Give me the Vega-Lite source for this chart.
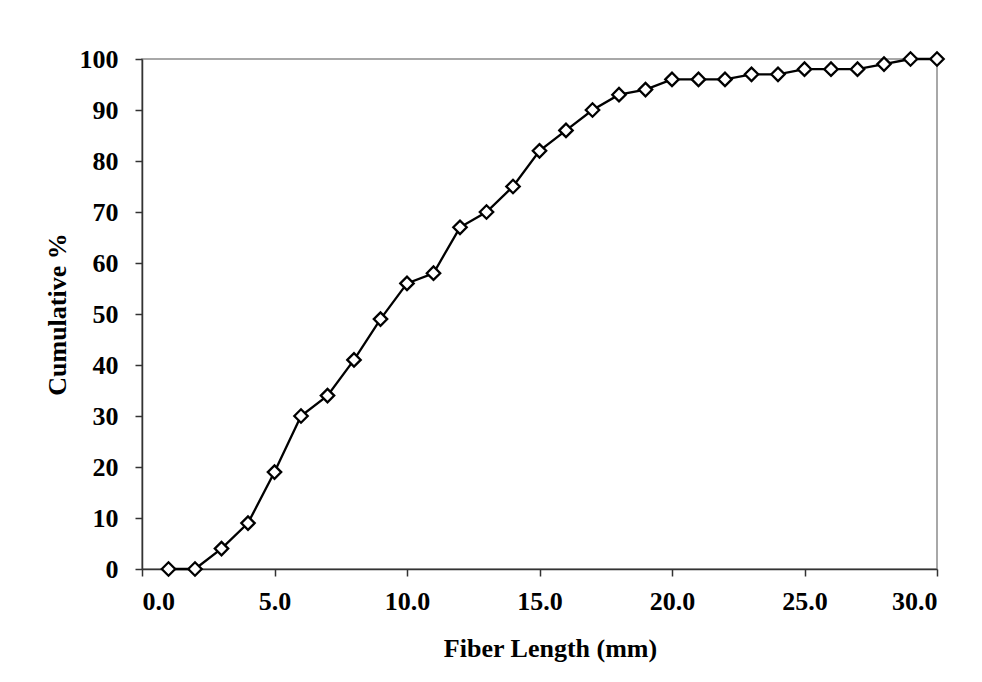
{
  "$schema": "https://vega.github.io/schema/vega-lite/v6.json",
  "autosize": {"type": "none"},
  "padding": {"left": 142, "top": 59, "right": 45, "bottom": 113},
  "width": 795,
  "height": 510,
  "background": "white",
  "config": {
    "view": {"stroke": "#8c8c8c", "strokeWidth": 1.5},
    "font": "Liberation Serif",
    "axis": {
      "labelFont": "Liberation Serif",
      "labelFontWeight": "bold",
      "labelFontSize": 26,
      "labelColor": "black",
      "titleFont": "Liberation Serif",
      "titleFontWeight": "bold",
      "titleFontSize": 26,
      "titleColor": "black",
      "grid": false,
      "domainColor": "#333333",
      "domainWidth": 1.5,
      "tickColor": "#333333",
      "tickWidth": 1.5,
      "tickSize": 7
    }
  },
  "data": {
    "values": [
      {"x": 1, "y": 0}, {"x": 2, "y": 0}, {"x": 3, "y": 4}, {"x": 4, "y": 9},
      {"x": 5, "y": 19}, {"x": 6, "y": 30}, {"x": 7, "y": 34}, {"x": 8, "y": 41},
      {"x": 9, "y": 49}, {"x": 10, "y": 56}, {"x": 11, "y": 58}, {"x": 12, "y": 67},
      {"x": 13, "y": 70}, {"x": 14, "y": 75}, {"x": 15, "y": 82}, {"x": 16, "y": 86},
      {"x": 17, "y": 90}, {"x": 18, "y": 93}, {"x": 19, "y": 94}, {"x": 20, "y": 96},
      {"x": 21, "y": 96}, {"x": 22, "y": 96}, {"x": 23, "y": 97}, {"x": 24, "y": 97},
      {"x": 25, "y": 98}, {"x": 26, "y": 98}, {"x": 27, "y": 98}, {"x": 28, "y": 99},
      {"x": 29, "y": 100}, {"x": 30, "y": 100}
    ]
  },
  "encoding": {
    "x": {
      "field": "x", "type": "quantitative",
      "scale": {"domain": [0, 30], "nice": false},
      "axis": {"title": "Fiber Length (mm)", "values": [0, 5, 10, 15, 20, 25, 30], "format": ".1f", "labelPadding": 12, "titlePadding": 21, "titleX": 408}
    },
    "y": {
      "field": "y", "type": "quantitative",
      "scale": {"domain": [0, 100], "nice": false},
      "axis": {"title": "Cumulative %", "values": [0, 10, 20, 30, 40, 50, 60, 70, 80, 90, 100], "labelPadding": 17, "titlePadding": 9}
    }
  },
  "layer": [
    {"mark": {"type": "line", "color": "black", "strokeWidth": 2.3, "clip": false}},
    {"mark": {"type": "point", "shape": "diamond", "size": 180, "filled": true, "fill": "white", "stroke": "black", "strokeWidth": 2.3, "opacity": 1, "clip": false}}
  ]
}
